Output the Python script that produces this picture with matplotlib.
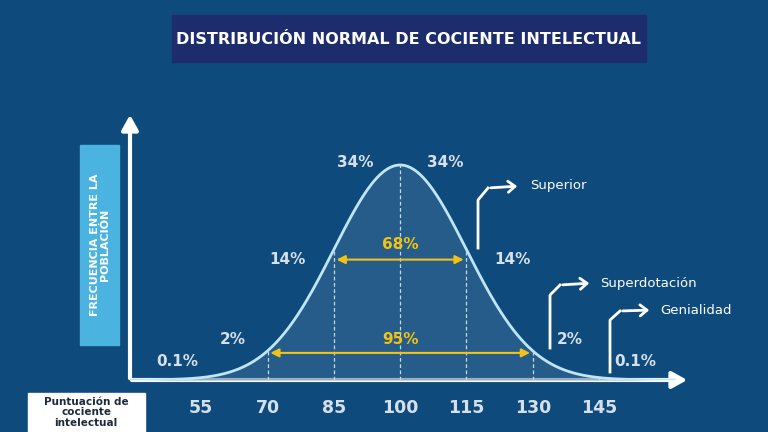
import matplotlib.pyplot as plt
import numpy as np
from matplotlib.patches import Rectangle, FancyArrowPatch

iq_ticks = [55, 70, 85, 100, 115, 130, 145]
pct_labels = ['0.1%', '2%', '14%', '34%', '34%', '14%', '2%', '0.1%']
pct_x = [49.6, 62.1, 74.6, 89.8, 110.2, 125.3, 138.4, 153.1]
pct_y = [0.085, 0.19, 0.56, 1.01, 1.01, 0.56, 0.19, 0.085]
mean, sd = 100, 15

bg = '#0f4a7c'
curve_c = '#bfe6f7'
txt_c = '#d5e0ea'
yellow = '#f2c315'

fig = plt.figure(figsize=(7.68, 4.32), dpi=100, facecolor=bg)

# decorations in pixel coordinates
deco = fig.add_axes([0, 0, 1, 1])
deco.set_xlim(0, 768)
deco.set_ylim(432, 0)
deco.axis('off')
deco.set_facecolor(bg)
deco.add_patch(Rectangle((172, 15), 474, 47, color='#1d2c6c'))
deco.text(409, 39, 'DISTRIBUCIÓN NORMAL DE COCIENTE INTELECTUAL', color='white',
          fontsize=11.5, fontweight='bold', ha='center', va='center')
deco.add_patch(Rectangle((80, 145), 39, 200, color='#4ab3df'))
deco.text(100, 245, 'FRECUENCIA ENTRE LA\nPOBLACIÓN', color='white', fontsize=8,
          fontweight='bold', rotation=90, ha='center', va='center', linespacing=1.1)
deco.add_patch(Rectangle((28, 393), 117, 45, color='white'))
deco.text(86, 416, 'Puntuación de\ncociente\nintelectual', color='#1d2c3c', fontsize=7.5,
          fontweight='bold', ha='center', va='top', linespacing=1.0, y=398) if False else \
    deco.text(86, 397, 'Puntuación de\ncociente\nintelectual', color='#1d2c3c', fontsize=7.5,
              fontweight='bold', ha='center', va='top', linespacing=1.05)
# axis arrows
deco.add_patch(FancyArrowPatch((130, 381), (130, 112), arrowstyle='-|>,head_width=5,head_length=9',
                               color='white', lw=3, mutation_scale=1))
deco.add_patch(FancyArrowPatch((129, 380), (690, 380), arrowstyle='-|>,head_width=5,head_length=9',
                               color='white', lw=3, mutation_scale=1))
# callouts
callouts = [('Superior', [(478, 248), (478, 200), (488, 188), (520, 186)], (530, 186)),
            ('Superdotación', [(550, 348), (550, 295), (560, 285), (592, 283)], (600, 284)),
            ('Genialidad', [(610, 372), (610, 320), (620, 311), (652, 310)], (660, 310))]
for name, pts, tp in callouts:
    xs, ys = zip(*pts)
    deco.plot(xs[:-1], ys[:-1], color='white', lw=2)
    deco.add_patch(FancyArrowPatch(pts[-2], pts[-1], arrowstyle='->,head_width=4,head_length=5',
                                   color='white', lw=2, mutation_scale=1))
    deco.text(tp[0], tp[1], name, color='white', fontsize=9.5, va='center')

# main chart in IQ units
ax = fig.add_axes([130 / 768, 52 / 432, 558 / 768, 265 / 432])
ax.patch.set_alpha(0)
ax.set_xlim(38.9, 165.1)
ax.set_ylim(0, 265 / 215)
ax.axis('off')
x = np.linspace(38, 162, 600)
y = np.exp(-0.5 * ((x - mean) / sd) ** 2)
ax.fill_between(x, 0, y, color='#3a6b95', alpha=0.55, lw=0)
ax.plot(x, y, color=curve_c, lw=2)
for t in iq_ticks[1:]:
    ax.plot([t, t], [0, np.exp(-0.5 * ((t - mean) / sd) ** 2)], color='#c9d6e3',
            lw=0.9, ls=(0, (3, 2)))
for t in iq_ticks:
    ax.text(t, -0.13, str(t), color=txt_c, fontsize=12.5, fontweight='bold',
            ha='center', va='center', clip_on=False)
for lab, px, py in zip(pct_labels, pct_x, pct_y):
    ax.text(px, py, lab, color=txt_c, fontsize=11, fontweight='bold', ha='center', va='center')
for lo, hi, ya, yt, lab in [(85, 115, 0.56, 0.63, '68%'), (70, 130, 0.126, 0.19, '95%')]:
    ax.annotate('', xy=(lo, ya), xytext=(hi, ya),
                arrowprops=dict(arrowstyle='<|-|>,head_width=0.25,head_length=0.5', color=yellow, lw=1.5))
    ax.text(100, yt, lab, color=yellow, fontsize=11, fontweight='bold', ha='center', va='center')

fig.savefig('out.png', dpi=100, facecolor=bg)
